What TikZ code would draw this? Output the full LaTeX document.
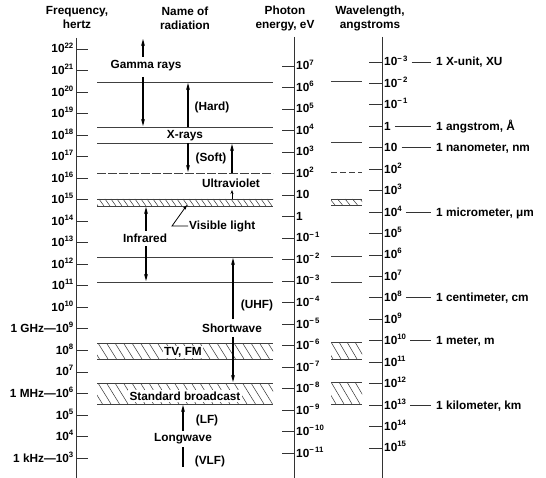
\documentclass[tikz,border=0pt]{standalone}
\usepackage{fontspec}
\setmainfont{Liberation Sans}
\usetikzlibrary{arrows.meta}
\newcommand{\ex}[1]{\raisebox{0.8ex}{\fontsize{7.8}{8}\selectfont #1}}
\newcommand{\hatchband}[6]{%
  \begin{scope}
    \clip (#1,#3) rectangle (#2,#4);
    \foreach \i in {0,...,40} {\draw[hatch] ({#1-16+\i*#5},#3) -- ++(#6,{#4-#3});}
  \end{scope}
  \draw[hline] (#1,#3) -- (#2,#3) (#1,#4) -- (#2,#4);}
\begin{document}
\begin{tikzpicture}[x=1pt,y=-1pt,
  lbl/.style={font=\fontsize{11.8}{13.5}\selectfont\bfseries, inner sep=1pt},
  hdr/.style={font=\fontsize{11.8}{14}\selectfont\bfseries, align=center, inner sep=0pt},
  axis/.style={line width=0.8pt, black!80},
  tick/.style={line width=0.8pt, black!80},
  hline/.style={line width=0.6pt, black!75},
  arr/.style={line width=1.1pt, -{Stealth[length=7pt,width=3.8pt]}},
  hatch/.style={line width=0.5pt, black!80},
]
\useasboundingbox (0,0) rectangle (546,478);
\fill[white] (0,0) rectangle (546,478);

% headers
\node[hdr] (h1) at (77,18) {Frequency,\\hertz};
\node[hdr] (h2) at (185,18) {Name of\\radiation};
\node[hdr] (h3) at (285,18) {Photon\\energy, eV};
\node[hdr] (h4) at (370,18) {Wavelength,\\angstroms};

% axes
\draw[axis] (76,38) -- (76,478);
\draw[axis] (294,37) -- (294,478);
\draw[axis] (382,37) -- (382,478);

% frequency ticks
\foreach \k/\t in {22/{10\ex{22}},21/{10\ex{21}},20/{10\ex{20}},19/{10\ex{19}},18/{10\ex{18}},
  17/{10\ex{17}},16/{10\ex{16}},15/{10\ex{15}},14/{10\ex{14}},13/{10\ex{13}},12/{10\ex{12}},
  11/{10\ex{11}},10/{10\ex{10}},9/{1 GHz—10\ex{9}},8/{10\ex{8}},7/{10\ex{7}},6/{1 MHz—10\ex{6}},
  5/{10\ex{5}},4/{10\ex{4}},3/{1 kHz—10\ex{3}}} {
  \pgfmathsetmacro\yy{49+(22-\k)*21.53}
  \draw[tick] (76,\yy) -- (88,\yy);
  \node[lbl, anchor=base east] (f\k) at (74.5,\yy+4) {\t};
}

% photon energy ticks
\foreach \k/\t in {7/{10\ex{7}},6/{10\ex{6}},5/{10\ex{5}},4/{10\ex{4}},3/{10\ex{3}},2/{10\ex{2}},
  1/{10},0/{1},-1/{10\ex{−\,1}},-2/{10\ex{−\,2}},-3/{10\ex{−\,3}},-4/{10\ex{−\,4}},-5/{10\ex{−\,5}},
  -6/{10\ex{−\,6}},-7/{10\ex{−\,7}},-8/{10\ex{−\,8}},-9/{10\ex{−\,9}},-10/{10\ex{−\,10}},-11/{10\ex{−\,11}}} {
  \pgfmathsetmacro\yy{66+(7-\k)*21.5}
  \draw[tick] (282,\yy) -- (294,\yy);
  \node[lbl, anchor=base west] (e\k) at (295,\yy+4) {\t};
}

% wavelength ticks
\foreach \k/\t in {-3/{10\ex{−\,3}},-2/{10\ex{−\,2}},-1/{10\ex{−\,1}},0/{1},1/{10},2/{10\ex{2}},
  3/{10\ex{3}},4/{10\ex{4}},5/{10\ex{5}},6/{10\ex{6}},7/{10\ex{7}},8/{10\ex{8}},9/{10\ex{9}},
  10/{10\ex{10}},11/{10\ex{11}},12/{10\ex{12}},13/{10\ex{13}},14/{10\ex{14}},15/{10\ex{15}}} {
  \pgfmathsetmacro\yy{62+(\k+3)*21.44}
  \draw[tick] (369,\yy) -- (382,\yy);
  \node[lbl, anchor=base west] (w\k) at (383,\yy+4) {\t};
}

% wavelength annotations
\foreach \k/\t in {-3/{1 X-unit, XU},0/{1 angstrom, Å},1/{1 nanometer, nm},4/{1 micrometer, μm},
  8/{1 centimeter, cm},10/{1 meter, m},13/{1 kilometer, km}} {
  \pgfmathsetmacro\yy{62+(\k+3)*21.44}
  \node[lbl, anchor=base west] (u\k) at (435,\yy+4) {\t};
  \draw[tick, shorten <=3pt, shorten >=4pt] (w\k.east |- 0,\yy) -- (u\k.west |- 0,\yy);
}

% middle horizontal boundaries
\foreach \yy in {82,127,143,257,282} \draw[hline] (97,\yy) -- (273,\yy);
\draw[hline, dash pattern=on 9pt off 2pt] (97,173) -- (273,173);
% right-column markers
\foreach \yy in {81,142,256,282} \draw[hline] (331,\yy) -- (362,\yy);
\draw[hline, dash pattern=on 6pt off 3pt] (331,172) -- (362,172);

% hatched bands
\hatchband{97}{273}{199}{206}{6}{5}
\hatchband{97}{273}{343}{359}{8.5}{10}
\hatchband{97}{273}{383}{404}{8.5}{13}
\hatchband{331}{362}{199}{205}{7.5}{5}
\hatchband{331}{362}{342}{359}{8}{10}
\hatchband{331}{362}{382}{404}{8}{13}

% labels in the middle
\node[lbl] (gam) at (146,66) {Gamma rays};
\node[lbl] (hard) at (212,107) {(Hard)};
\node[lbl] (xr) at (185,136) {X-rays};
\node[lbl] (soft) at (211,158) {(Soft)};
\node[lbl] (uv) at (231,183) {Ultraviolet};
\node[lbl, anchor=west] (vis) at (188,226) {Visible light};
\node[lbl] (ir) at (145,238) {Infrared};
\node[lbl] (uhf) at (257,305) {(UHF)};
\node[lbl] (sw) at (232,328) {Shortwave};
\node[lbl, fill=white, inner sep=1.5pt] (tv) at (183,352) {TV, FM};
\node[lbl, fill=white, inner sep=1.5pt] (sb) at (185,396) {Standard broadcast};
\node[lbl] (lf) at (207,420) {(LF)};
\node[lbl] (lw) at (183,439) {Longwave};
\node[lbl] (vlf) at (210,461) {(VLF)};

% arrow end points
\coordinate (g0) at (143,57);  \coordinate (g1) at (143,39);
\coordinate (g2) at (143,77);  \coordinate (g3) at (143,126);
\coordinate (hd0) at (188,127); \coordinate (hd1) at (188,83);
\coordinate (sf0) at (188,143); \coordinate (sf1) at (188,172);
\coordinate (su0) at (232,173); \coordinate (su1) at (232,144);
\coordinate (uv0) at (232,199); \coordinate (uv1) at (232,190);
\coordinate (vk) at (172,226);  \coordinate (vt) at (187,205);
\coordinate (ir0) at (146,231); \coordinate (ir1) at (146,207);
\coordinate (ir2) at (146,246); \coordinate (ir3) at (146,281);
\coordinate (uh0) at (233,319); \coordinate (uh1) at (233,258);
\coordinate (sw0) at (233,337); \coordinate (sw1) at (233,382);
\coordinate (lf0) at (183,431); \coordinate (lf1) at (183,405);
\coordinate (vl0) at (183,447); \coordinate (vl1) at (183,467);

\draw[arr] (g0) -- (g1);
\draw[arr] (g2) -- (g3);
\draw[arr] (hd0) -- (hd1);
\draw[arr] (sf0) -- (sf1);
\draw[arr] (su0) -- (su1);
\draw[line width=1pt, -{Stealth[length=4pt,width=3pt]}] (uv0) -- (uv1);
\draw[line width=0.8pt, -{Stealth[length=5pt,width=3.2pt]}] (vis.west) -- (vk) -- (vt);
\draw[arr] (ir0) -- (ir1);
\draw[arr] (ir2) -- (ir3);
\draw[arr] (uh0) -- (uh1);
\draw[arr] (sw0) -- (sw1);
\draw[arr] (lf0) -- (lf1);
\draw[line width=1.1pt] (vl0) -- (vl1);
\end{tikzpicture}
\end{document}
